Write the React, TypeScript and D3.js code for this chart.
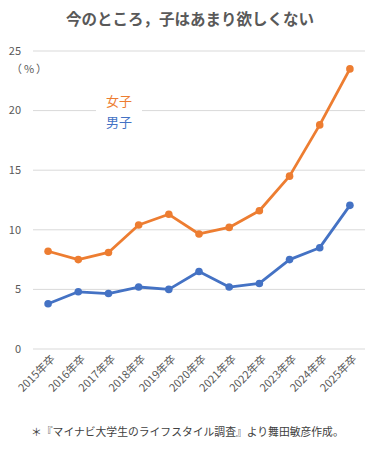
import React from "react";
import * as d3 from "d3";

const years = ["2015年卒","2016年卒","2017年卒","2018年卒","2019年卒","2020年卒","2021年卒","2022年卒","2023年卒","2024年卒","2025年卒"];
const female = [8.2, 7.5, 8.1, 10.4, 11.3, 9.65, 10.2, 11.6, 14.5, 18.8, 23.5];
const male = [3.8, 4.8, 4.65, 5.2, 5.0, 6.5, 5.2, 5.5, 7.5, 8.5, 12.05];
const yTicks = [0, 5, 10, 15, 20, 25];
const seriesNames = ["女子", "男子"];
const title = "今のところ，子はあまり欲しくない";
const unitLabel = "（%）";
const footnote = "＊『マイナビ大学生のライフスタイル調査』より舞田敏彦作成。";

const W = 376, H = 451;
const ORANGE = "#ED7D31", BLUE = "#4472C4";
const FONT = "'Noto Sans CJK JP', 'Noto Sans', sans-serif";

export default function App() {
  const x = d3.scaleBand<string>().domain(years).range([33, 365]);
  const y = d3.scaleLinear().domain([0, 25]).range([349, 51]);
  const line = d3.line<number>()
    .x((_, i) => (x(years[i]) as number) + x.bandwidth() / 2)
    .y((d) => y(d));
  const series = [
    { name: seriesNames[0], data: female, color: ORANGE },
    { name: seriesNames[1], data: male, color: BLUE },
  ];
  return (
    <svg width={W} height={H} style={{ position: "absolute", left: 0, top: 0, background: "#fff" }} fontFamily={FONT}>
      <rect width={W} height={H} fill="#fff" />
      <text x={190} y={25} textAnchor="middle" fontSize={15.5} fontWeight="bold" fill="#595959">{title}</text>
      {yTicks.map((t) => (
        <g key={t}>
          <line x1={33} x2={365} y1={y(t)} y2={y(t)} stroke="#D9D9D9" strokeWidth={1} />
          <text x={21} y={y(t)} dy="0.35em" textAnchor="end" fontSize={11} fill="#595959">{t}</text>
        </g>
      ))}
      <text x={30} y={69} dy="0.35em" textAnchor="middle" fontSize={11} fill="#595959" letterSpacing={2}>{unitLabel}</text>
      <rect x={96} y={90} width={46} height={42} fill="#fff" />
      <text x={119} y={101} dy="0.35em" textAnchor="middle" fontSize={13} fill={ORANGE}>{series[0].name}</text>
      <text x={119} y={122} dy="0.35em" textAnchor="middle" fontSize={13} fill={BLUE}>{series[1].name}</text>
      {series.map((s) => (
        <g key={s.name}>
          <path d={line(s.data) || ""} fill="none" stroke={s.color} strokeWidth={2.8} strokeLinejoin="round" />
          {s.data.map((v, i) => (
            <circle key={i} cx={(x(years[i]) as number) + x.bandwidth() / 2} cy={y(v)} r={3.8} fill={s.color} />
          ))}
        </g>
      ))}
      {years.map((yr) => {
        const cx = (x(yr) as number) + x.bandwidth() / 2;
        return (
          <text key={yr} transform={`translate(${cx + 5},${357}) rotate(-45)`} textAnchor="end" fontSize={11} fill="#595959" dy="0.35em">{yr}</text>
        );
      })}
      <text x={31} y={432} dy="0.35em" fontSize={10.8} fill="#404040">{footnote}</text>
    </svg>
  );
}
